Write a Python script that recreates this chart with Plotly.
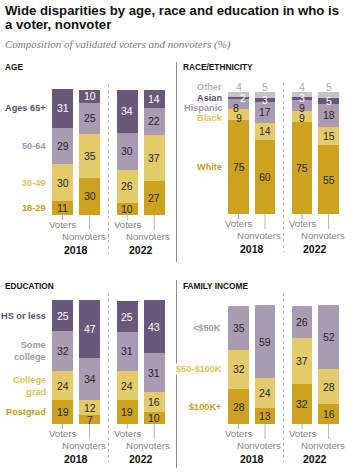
import plotly.graph_objects as go

W, H = 357, 476

# ---------------- data ----------------
bar_groups = ["2018 Voters", "2018 Nonvoters", "2022 Voters", "2022 Nonvoters"]
years = ["2018", "2022"]
voter_types = ["Voters", "Nonvoters"]

age_labels = ["18-29", "30-49", "50-64", "Ages 65+"]
age_18_29 = [11, 30, 10, 27]
age_30_49 = [30, 35, 26, 37]
age_50_64 = [29, 25, 30, 22]
age_65_plus = [31, 10, 34, 14]

race_labels = ["White", "Black", "Hispanic", "Asian", "Other"]
race_white = [75, 60, 75, 55]
race_black = [9, 14, 9, 15]
race_hispanic = [8, 17, 9, 18]
race_asian = [2, 3, 3, 5]
race_other = [4, 5, 4, 5]

edu_labels = ["Postgrad", "College<br>grad", "Some<br>college", "HS or less"]
edu_postgrad = [19, 7, 19, 10]
edu_college_grad = [24, 12, 24, 16]
edu_some_college = [32, 34, 31, 31]
edu_hs_or_less = [25, 47, 25, 43]

inc_labels = ["$100K+", "$50-$100K", "<$50K"]
inc_100k_plus = [28, 13, 32, 16]
inc_50_100k = [32, 24, 37, 28]
inc_under_50k = [35, 59, 26, 52]

# ---------------- style ----------------
GOLD = "#cda21f"
LYEL = "#e3cb6b"
LPUR = "#a99bb2"
DPUR = "#68597b"
GRAY = "#c4c4c4"
LABEL_COLOR = {GOLD: "#c99e17", LYEL: "#dfc256", LPUR: "#a596ae", DPUR: "#5d4e6f", GRAY: "#b8b8b8"}
FONT = "Liberation Sans"

bar_pos = [0, 1, 2.4, 3.4]
year_pos = [0.5, 2.9]
bar_w = 0.78
divider_x = 1.7

panels = [
    dict(title="AGE", labels=age_labels,
         series=[age_18_29, age_30_49, age_50_64, age_65_plus],
         colors=[GOLD, LYEL, LPUR, DPUR],
         x0=62.5, u=27, y0=215, k=1.25, dx=(0, 176), dy=(62, 262), lab_px=48, norm=False,
         title_px=(3, 67)),
    dict(title="RACE/ETHNICITY", labels=race_labels,
         series=[race_white, race_black, race_hispanic, race_asian, race_other],
         colors=[GOLD, LYEL, LPUR, DPUR, GRAY],
         x0=238.5, u=26.5, y0=214, k=1.223, dx=(178, 357), dy=(62, 262), lab_px=224, norm=True,
         title_px=(181, 67)),
    dict(title="EDUCATION", labels=edu_labels,
         series=[edu_postgrad, edu_college_grad, edu_some_college, edu_hs_or_less],
         colors=[GOLD, LYEL, LPUR, DPUR],
         x0=62.5, u=27, y0=424, k=1.24, dx=(0, 176), dy=(280, 470), lab_px=48, norm=False,
         title_px=(3, 286)),
    dict(title="FAMILY INCOME", labels=inc_labels,
         series=[inc_100k_plus, inc_50_100k, inc_under_50k],
         colors=[GOLD, LYEL, LPUR],
         x0=238.5, u=26.5, y0=424, k=1.24, dx=(178, 357), dy=(280, 470), lab_px=223, norm=False,
         title_px=(181, 286)),
]

fig = go.Figure()
annotations = []
shapes = []


def ptext(text, px, py, size, color, bold=False, xanchor="left", family=FONT, italic=False):
    if bold:
        text = "<b>" + text + "</b>"
    if italic:
        text = "<i>" + text + "</i>"
    annotations.append(dict(text=text, x=px / W, y=1 - py / H, xref="paper", yref="paper",
                            xanchor=xanchor, yanchor="middle", showarrow=False,
                            font=dict(size=size, color=color, family=family)))


def dtext(text, x, y, xa, ya, size, color, bold=False, xanchor="center", xshift=0, bg=None, align="center"):
    if bold:
        text = "<b>" + text + "</b>"
    a = dict(text=text, x=x, y=y, xref=xa, yref=ya, xanchor=xanchor, yanchor="middle",
             showarrow=False, xshift=xshift, align=align,
             font=dict(size=size, color=color, family=FONT))
    if bg:
        a["bgcolor"] = bg
        a["borderpad"] = 0
    annotations.append(a)


# title and subtitle
ptext("Wide disparities by age, race and education in who is", 3, 10.5, 13.2, "#111111", bold=True)
ptext("a voter, nonvoter", 3, 24.5, 13.2, "#111111", bold=True)
ptext("Composition of validated voters and nonvoters (%)", 3, 44, 11, "#7a7a7a",
      family="Liberation Serif", italic=True)

layout_axes = {}
for i, p in enumerate(panels):
    sfx = "" if i == 0 else str(i + 1)
    xa, ya = "x" + sfx, "y" + sfx
    x0, u, y0, k = p["x0"], p["u"], p["y0"], p["k"]
    nb = len(bar_pos)
    totals = [sum(s[j] for s in p["series"]) for j in range(nb)]
    heights = [[(v / totals[j] * 100) if p["norm"] else v for j, v in enumerate(s)] for s in p["series"]]

    for s, h, c in zip(p["series"], heights, p["colors"]):
        fig.add_trace(go.Bar(x=bar_pos, y=h, width=bar_w, marker=dict(color=c, line=dict(width=0)),
                             xaxis=xa, yaxis=ya, showlegend=False, hoverinfo="skip"))

    layout_axes["xaxis" + sfx] = dict(domain=[p["dx"][0] / W, p["dx"][1] / W],
                                      range=[(p["dx"][0] - x0) / u, (p["dx"][1] - x0) / u],
                                      visible=False, fixedrange=True, anchor=ya)
    layout_axes["yaxis" + sfx] = dict(domain=[1 - p["dy"][1] / H, 1 - p["dy"][0] / H],
                                      range=[(y0 - p["dy"][1]) / k, (y0 - p["dy"][0]) / k],
                                      visible=False, fixedrange=True, anchor=xa)

    ns = len(p["series"])
    has_other = p["norm"]
    other_y = (y0 - 87) / k
    # centres of segments
    centers = []
    for j in range(nb):
        cum = 0
        cs = []
        for si in range(ns):
            cs.append(cum + heights[si][j] / 2)
            cum += heights[si][j]
        centers.append(cs)

    # value labels
    for j in range(nb):
        top = ns - 2 if has_other else ns - 1
        ys = [None] * ns
        prev = None
        for si in range(top, -1, -1):
            c = centers[j][si]
            if has_other and prev is not None:
                c = min(c, prev - 8)
            ys[si] = c
            prev = c
        for si in range(top + 1):
            col = "#ffffff" if p["colors"][si] == DPUR else "#262626"
            xs = 0
            if has_other and j == 0 and si == ns - 2:
                xs = 4
            elif has_other and j == 0 and si == ns - 3:
                xs = -2.5
            dtext(str(p["series"][si][j]), bar_pos[j], ys[si], xa, ya, 10.5, col, xshift=xs)
        if has_other:
            dtext(str(p["series"][ns - 1][j]), bar_pos[j], other_y, xa, ya, 10.5, "#ababab")

    # category labels (aligned to first bar)
    lab_x = (p["lab_px"] - x0) / u
    prev = None
    for si in range(ns - 1, -1, -1):
        if has_other and si == ns - 1:
            yv = other_y
        else:
            yv = centers[0][si]
            if has_other and prev is not None:
                yv = min(yv, prev - 8.2)
        prev = yv
        col = LABEL_COLOR[p["colors"][si]]
        bg = "#ffffff" if p["labels"][si] == "$50-$100K" else None
        dtext(p["labels"][si], lab_x, yv, xa, ya, 9.2, col, bold=True, xanchor="right", bg=bg, align="right")

    # voters/nonvoters ticks and labels
    for j in range(nb):
        is_voter = (j % 2 == 0)
        tick_len = 5 if is_voter else 15
        shapes.append(dict(type="line", xref=xa, yref=ya, x0=bar_pos[j], x1=bar_pos[j],
                           y0=0, y1=-tick_len / k, line=dict(color="#b5b5b5", width=1), layer="below"))
        lab_off = 9.5 if is_voter else 21
        dtext(voter_types[j % 2], bar_pos[j], -lab_off / k, xa, ya, 9.6, "#858585",
              xshift=0 if is_voter else -6)
    for yi, yr in enumerate(years):
        dtext(yr, year_pos[yi], -35 / k, xa, ya, 10.5, "#111111", bold=True)

    # dotted divider between years
    shapes.append(dict(type="line", xref=xa, yref=ya, x0=divider_x, x1=divider_x,
                       y0=131 / k, y1=-38 / k, line=dict(color="#b0b0b0", width=1, dash="dot")))

    # panel title
    ptext(p["title"], p["title_px"][0], p["title_px"][1], 8.3, "#111111", bold=True)

# vertical separators between left and right panels
for (a, b) in [(62, 262), (280, 468)]:
    shapes.append(dict(type="line", xref="paper", yref="paper", x0=176.5 / W, x1=176.5 / W,
                       y0=1 - a / H, y1=1 - b / H, line=dict(color="#8e8e8e", width=1), layer="below"))

fig.update_layout(
    width=W, height=H, autosize=False,
    margin=dict(l=0, r=0, t=0, b=0, pad=0),
    paper_bgcolor="#ffffff", plot_bgcolor="#ffffff",
    barmode="stack", bargap=0,
    annotations=annotations, shapes=shapes,
    font=dict(family=FONT),
    **layout_axes,
)

fig.write_html("out.html", include_plotlyjs=True,
               config={"displayModeBar": False, "staticPlot": True},
               post_script="document.body.style.margin='0';")
